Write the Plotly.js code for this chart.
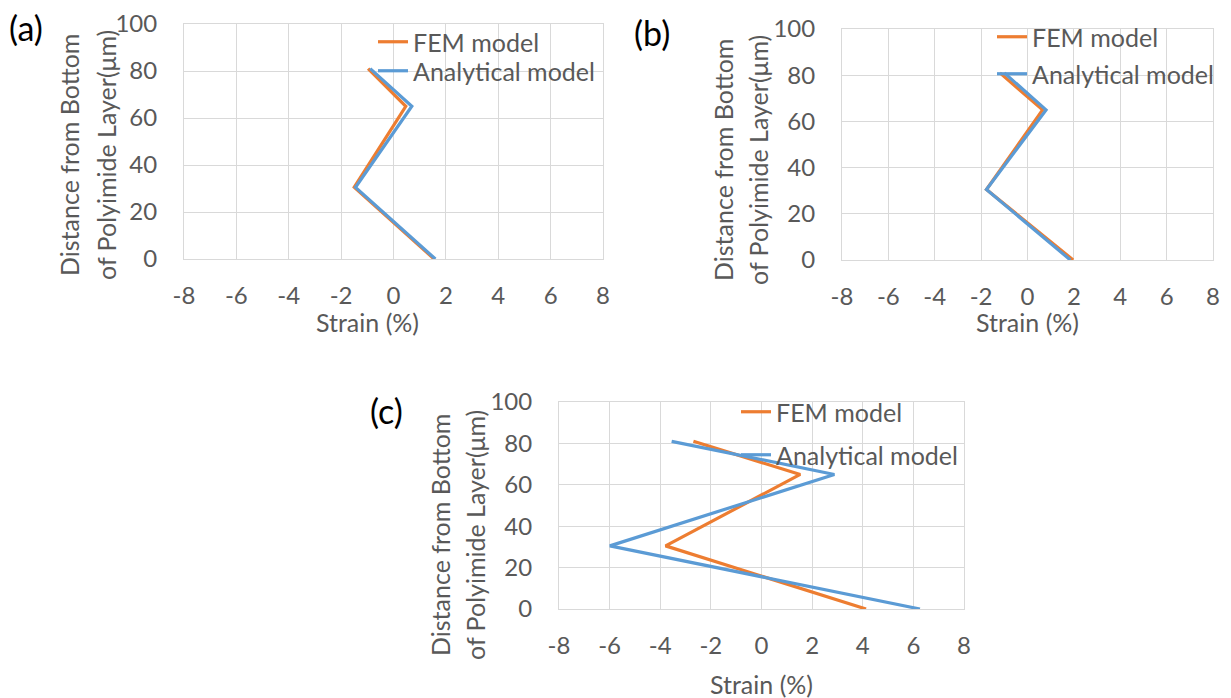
<!DOCTYPE html>
<html>
<head>
<meta charset="utf-8">
<script src="https://cdn.plot.ly/plotly-3.0.1.min.js"></script>
<style>html,body{margin:0;padding:0;background:#fff;}#chart{width:1231px;height:698px;}</style>
</head>
<body>
<div id="chart"></div>
<script>
// ---- data ----
const distance = [0, 30.5, 65, 81];                 // µm from bottom of polyimide layer
const femA = [1.55, -1.5, 0.47, -0.97];             // panel (a) FEM strain (%)
const anaA = [1.6, -1.45, 0.7, -0.89];              // panel (a) analytical strain (%)
const femB = [1.97, -1.77, 0.65, -1.19];            // panel (b)
const anaB = [1.85, -1.77, 0.8, -1.0];              // panel (b)
const femC = [4.13, -3.79, 1.53, -2.69];            // panel (c)
const anaC = [6.26, -5.99, 2.88, -3.55];            // panel (c)
const seriesNames = ['FEM model', 'Analytical model'];
const panelLabels = ['(a)', '(b)', '(c)'];
const xTickVals = [-8, -6, -4, -2, 0, 2, 4, 6, 8];
const yTickVals = [0, 20, 40, 60, 80, 100];
const xTitle = 'Strain (%)';
const yTitle1 = 'Distance from Bottom';
const yTitle2 = 'of Polyimide Layer(μm)';

// ---- layout helpers ----
const W = 1231, H = 698;
const px = v => v / W;
const py = v => 1 - v / H;
const FONT = 'Lato, "Open Sans", sans-serif';
const GRAY = '#595959';
const ORANGE = '#ED7D31', BLUE = '#5B9BD5';

const panels = [
  {x0:184, x1:603, y0:24,  y1:259, fem:femA, ana:anaA,
   leg:{fx:373, fy:42, ax:373, ay:71}, lab:[26,27], yt:[69,106,155], xt:[367,322]},
  {x0:842, x1:1213, y0:29, y1:260, fem:femB, ana:anaB,
   leg:{fx:992, fy:37, ax:992, ay:74}, lab:[652,32], yt:[723,758,160], xt:[1027,322]},
  {x0:559, x1:964, y0:402, y1:609, fem:femC, ana:anaC,
   leg:{fx:736, fy:412, ax:736, ay:455}, lab:[386,410], yt:[440,475,535], xt:[761,684]}
];

const traces = [];
const layout = {
  width: W, height: H,
  margin: {l:0, r:0, t:0, b:0},
  paper_bgcolor: '#fff', plot_bgcolor: '#fff',
  font: {family: FONT, color: GRAY, size: 24},
  showlegend: true,
  annotations: []
};

panels.forEach((p, i) => {
  const n = i === 0 ? '' : String(i + 1);
  const xa = 'xaxis' + n, ya = 'yaxis' + n;
  const xr = 'x' + n, yr = 'y' + n;
  layout[xa] = {
    domain: [px(p.x0), px(p.x1)], anchor: yr,
    range: [-8, 8], tickvals: xTickVals, ticktext: xTickVals.map(String),
    showgrid: true, gridcolor: '#D9D9D9', gridwidth: 1,
    zeroline: false, showline: true, linecolor: '#D9D9D9', mirror: true,
    ticks: '', ticklabelstandoff: 15,
    tickfont: {family: FONT, size: 24, color: GRAY}, fixedrange: true
  };
  layout[ya] = {
    domain: [py(p.y1), py(p.y0)], anchor: xr,
    range: [0, 100], tickvals: yTickVals, ticktext: yTickVals.map(String),
    showgrid: true, gridcolor: '#D9D9D9', gridwidth: 1,
    zeroline: false, showline: true, linecolor: '#D9D9D9', mirror: true,
    ticks: '', ticklabelstandoff: 21,
    tickfont: {family: FONT, size: 24, color: GRAY}, fixedrange: true
  };
  const lf = 'legend' + (i * 2 === 0 ? '' : String(i * 2 + 1));
  const la = 'legend' + String(i * 2 + 2);
  [[lf, p.leg.fx, p.leg.fy], [la, p.leg.ax, p.leg.ay]].forEach(([name, lx, ly]) => {
    layout[name] = {
      x: px(lx), y: py(ly), xanchor: 'left', yanchor: 'middle',
      bgcolor: 'rgba(0,0,0,0)', borderwidth: 0,
      font: {family: FONT, size: 25, color: GRAY},
      itemwidth: 30, tracegroupgap: 0
    };
  });
  traces.push({
    type: 'scatter', mode: 'lines', x: p.fem, y: distance,
    xaxis: xr, yaxis: yr, name: seriesNames[0], legend: lf,
    line: {color: ORANGE, width: 3.2}, hoverinfo: 'skip'
  });
  traces.push({
    type: 'scatter', mode: 'lines', x: p.ana, y: distance,
    xaxis: xr, yaxis: yr, name: seriesNames[1], legend: la,
    line: {color: BLUE, width: 3.2}, hoverinfo: 'skip'
  });
  const base = {xref: 'paper', yref: 'paper', showarrow: false, xanchor: 'center', yanchor: 'middle'};
  layout.annotations.push(Object.assign({}, base, {
    x: px(p.lab[0]), y: py(p.lab[1]), text: panelLabels[i],
    font: {family: FONT, size: 34, color: '#000'}
  }));
  layout.annotations.push(Object.assign({}, base, {
    x: px(p.xt[0]), y: py(p.xt[1]), text: xTitle,
    font: {family: FONT, size: 25, color: GRAY}
  }));
  layout.annotations.push(Object.assign({}, base, {
    x: px(p.yt[0]), y: py(p.yt[2]), text: yTitle1, textangle: -90,
    font: {family: FONT, size: 25, color: GRAY}
  }));
  layout.annotations.push(Object.assign({}, base, {
    x: px(p.yt[1]), y: py(p.yt[2]), text: yTitle2, textangle: -90,
    font: {family: FONT, size: 25, color: GRAY}
  }));
});

Plotly.newPlot('chart', traces, layout, {staticPlot: true, displayModeBar: false});
</script>
</body>
</html>
